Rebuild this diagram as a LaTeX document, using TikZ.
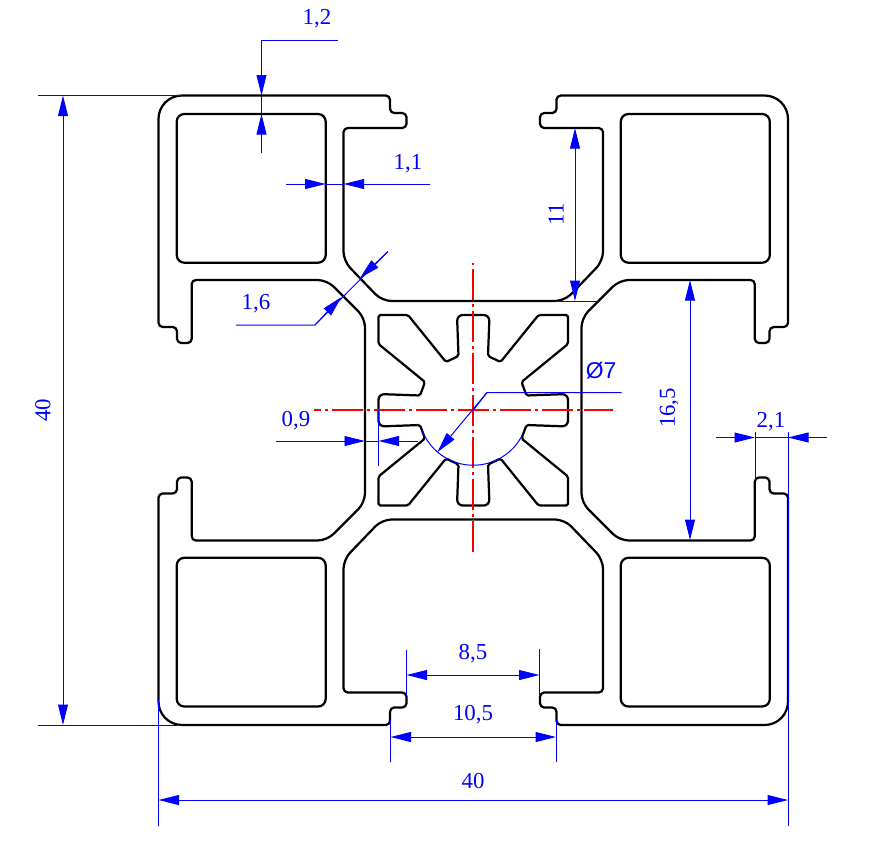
\documentclass[tikz,border=0pt]{standalone}
\usepackage{fontspec}
\setmainfont{Liberation Serif}
\newfontfamily\diafont{Liberation Sans}
\usetikzlibrary{arrows.meta}

\begin{document}
\begin{tikzpicture}[x=0.03cm,y=-0.03cm]
    \tikzset{profile/.style = {line width=1.9pt,line join=round}}
    \tikzset{dimline/.style = {blue,line width=0.85pt}}
    \tikzset{edge/.style = {dimline,-{Triangle[length=17.5pt,width=8.5pt]}}}
    \tikzset{midline/.style = {red,line width=1.5pt,dash pattern=on 26.4pt off 3.4pt on 2.6pt off 3.4pt,dash phase=13.2pt}}
    \tikzset{dimlabel/.style = {blue,font=\fontsize{19.5}{20}\selectfont,inner sep=0pt}}

    \useasboundingbox (0,0) rectangle (892,859);

    % the four mirrored quarters of the profile
    \foreach \sx/\sy in {1/1,-1/1,1/-1,-1/-1} {
        \begin{scope}[shift={(473.25,410.25)},xscale=\sx,yscale=\sy,shift={(-473.25,-410.25)}]
            % outer contour
            \draw[profile,rounded corners=8pt] (365,410.25) -- (365,318) -- (327,280)
                [rounded corners=3.6pt] -- (191.7,280) -- (191.7,343) -- (177,343) -- (177,327) -- (158.5,327)
                [rounded corners=20pt] -- (158.5,95.5)
                [rounded corners=3.6pt] -- (390,95.5) -- (390,113) -- (406.5,113) -- (406.5,128) -- (343.5,128)
                [rounded corners=8pt] -- (343.5,261) -- (382,301) -- (473.25,301);
            % hollow chamber
            \draw[profile,rounded corners=6.5pt] (176.7,114) rectangle (325.7,262.7);
            % star in the core
            \draw[profile,rounded corners=5pt] (378.5,410.25) -- (378.5,394)
                [rounded corners=1.5pt] -- (420,395.5) -- (425,382) -- (378.5,344) -- (378.5,315) -- (408,315) -- (446,362) -- (458.5,356)
                [rounded corners=5pt] -- (457,315) -- (473.25,315);
        \end{scope}
    }

    % centre lines
    \coordinate (boreCentre) at (473.25,410.25);
    \coordinate (axisLeft) at (314,410.25);
    \coordinate (axisRight) at (613,410.25);
    \coordinate (axisTop) at (473.25,263);
    \coordinate (axisBottom) at (473.25,552);
    \draw[midline] (boreCentre) -- (axisLeft);
    \draw[midline] (boreCentre) -- (axisRight);
    \draw[midline] (boreCentre) -- (axisTop);
    \draw[midline] (boreCentre) -- (axisBottom);

    % 1,2
    \node[dimlabel] (wallTop) at (317,18.5) {1,2};
    \draw[dimline] (338,40) -- (261.5,40) -- (261.5,75);
    \draw[edge] (261.5,60) -- (261.5,95.5);
    \draw[edge] (261.5,153) -- (261.5,114);
    \draw[dimline] (261.5,95.5) -- (261.5,114);

    % 1,1
    \node[dimlabel] (wallSide) at (408,164) {1,1};
    \draw[edge] (286,184) -- (325.7,184);
    \draw[edge] (430,184) -- (343.5,184);
    \draw[dimline] (325.7,184) -- (343.5,184);

    % 1,6
    \node[dimlabel] (wallDiag) at (256,304) {1,6};
    \draw[dimline] (236,325) -- (315,325) -- (388,251.5);
    \draw[edge] (315,325) -- (341.5,297);
    \draw[edge] (388,251.5) -- (360,278);

    % 11
    \node[dimlabel,rotate=90] (slotDepth) at (556,214) {11};
    \draw[edge] (575,215) -- (575,128);
    \draw[edge] (575,215) -- (575,301);
    \draw[dimline] (555,301) -- (600,301);

    % 16,5
    \node[dimlabel,rotate=90] (slotWidth) at (669,408) {16,5};
    \draw[edge] (690,410) -- (690,280);
    \draw[edge] (690,410) -- (690,540);

    % 40 left
    \node[dimlabel,rotate=90] (heightAll) at (43,410) {40};
    \draw[edge] (63,410) -- (63,95.5);
    \draw[edge] (63,410) -- (63,725);
    \draw[dimline] (38,95.5) -- (182,95.5);
    \draw[dimline] (38,725) -- (182,725);

    % 40 bottom
    \node[dimlabel] (widthAll) at (473,781) {40};
    \draw[edge] (473,800) -- (158.5,800);
    \draw[edge] (473,800) -- (788,800);
    \draw[dimline] (158.5,700) -- (158.5,826);
    \draw[dimline] (788,432) -- (788,826);

    % 2,1
    \node[dimlabel] (lipWidth) at (771,422) {2,1};
    \draw[edge] (716,437.5) -- (755,437.5);
    \draw[edge] (827,437.5) -- (788,437.5);
    \draw[dimline] (755,437.5) -- (788,437.5);
    \draw[dimline] (755,432) -- (755,480);

    % 8,5
    \node[dimlabel] (slotInner) at (473,654) {8,5};
    \draw[edge] (473,675) -- (406.5,675);
    \draw[edge] (473,675) -- (539.5,675);
    \draw[dimline] (406.5,650) -- (406.5,695);
    \draw[dimline] (539.5,649) -- (539.5,695);

    % 10,5
    \node[dimlabel] (slotOuter) at (473,715) {10,5};
    \draw[edge] (473,737) -- (390.5,737);
    \draw[edge] (473,737) -- (556,737);
    \draw[dimline] (390.5,720) -- (390.5,762);
    \draw[dimline] (556,720) -- (556,762);

    % 0,9
    \node[dimlabel] (coreWall) at (296,421) {0,9};
    \draw[edge] (276,441) -- (365,441);
    \draw[edge] (418,441) -- (378.5,441);
    \draw[dimline] (365,441) -- (378.5,441);
    \draw[dimline] (378.5,410) -- (378.5,466);

    % bore with its leader
    \node[dimlabel,font=\fontsize{19.5}{20}\selectfont\diafont] (boreSize) at (601,371) {Ø7};
    \draw[dimline] (boreCentre) ++(201:1.65cm) arc[start angle=201,end angle=332,radius=1.65cm];
    \draw[dimline] (621.5,392.5) -- (487,392.5) -- (boreCentre);
    \draw[edge] (487,392.5) -- (437.5,452);

\end{tikzpicture}
\end{document}
